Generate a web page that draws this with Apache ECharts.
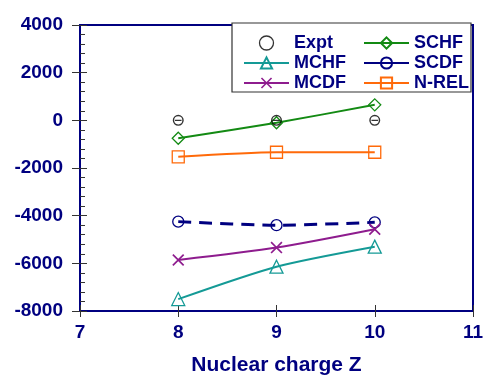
<!DOCTYPE html>
<html>
<head>
<meta charset="utf-8">
<script src="https://cdn.jsdelivr.net/npm/echarts@6/dist/echarts.min.js"></script>
<style>
  html, body { margin: 0; padding: 0; background: #fff; }
  #chart { width: 483px; height: 376px; }
</style>
</head>
<body>
<div id="chart"></div>
<script>
  const zValues = [8, 9, 10];
  const expt = [0, 0, 0];
  const schf = [-750, -100, 650];
  const mchf = [-7500, -6140, -5300];
  const scdf = [-4250, -4400, -4280];
  const mcdf = [-5860, -5340, -4570];
  const nrel = [-1530, -1340, -1340];
  const yTicks = [-8000, -6000, -4000, -2000, 0, 2000, 4000];
  const xTicks = [7, 8, 9, 10, 11];

  const navy = '#000080';
  const font = 'Liberation Sans, Arial, sans-serif';
  const crossPath = 'path://M0,1L1,0L5,4L9,0L10,1L6,5L10,9L9,10L5,6L1,10L0,9L4,5Z';
  // circle with a short bar through it, as drawn for the measured points
  const exptPath = 'path://M5,0A5,5 0 1,1 5,10A5,5 0 1,1 5,0Z' +
    'M5,1.3A3.7,3.7 0 1,0 5,8.7A3.7,3.7 0 1,0 5,1.3Z' +
    'M2,4.4L8,4.4L8,5.6L2,5.6Z';

  function pairs(vals) {
    return zValues.map((z, i) => [z, vals[i]]);
  }

  function lineSeries(name, vals, color, symbol, size, extra) {
    let s = {
      name: name,
      type: 'line',
      data: pairs(vals),
      smooth: 0.25,
      symbol: symbol,
      symbolSize: size,
      color: color,
      lineStyle: { color: color, width: 2 },
      itemStyle: { color: 'rgba(255,255,255,0)', borderColor: color, borderWidth: 1.3 }
    };
    return Object.assign(s, extra || {});
  }

  let chart = echarts.init(document.getElementById('chart'));

  let legendText = { color: navy, fontWeight: 'bold', fontSize: 18, fontFamily: font };

  let option = {
    animation: false,
    grid: {
      show: true,
      left: 80, right: 10, top: 25, bottom: 65,
      outerBoundsMode: 'none',
      containLabel: false,
      borderColor: navy, borderWidth: 2,
      backgroundColor: '#fff'
    },
    graphic: [{
      type: 'rect',
      z: 5,
      shape: { x: 232, y: 23, width: 239, height: 69 },
      style: { fill: '#fff', stroke: '#333', lineWidth: 1.2 }
    }],
    legend: [{
      z: 10,
      orient: 'vertical',
      left: 238, top: 29,
      itemWidth: 45, itemHeight: 14, itemGap: 2,
      textStyle: legendText,
      data: [{
        name: 'Expt', icon: 'circle',
        itemStyle: { color: 'rgba(255,255,255,0)', borderColor: '#000', borderWidth: 1.3 }
      }, 'MCHF', 'MCDF']
    }, {
      z: 10,
      orient: 'vertical',
      left: 358, top: 29,
      itemWidth: 45, itemHeight: 14, itemGap: 2,
      textStyle: legendText,
      data: ['SCHF', { name: 'SCDF', lineStyle: { type: 'solid', width: 2 } }, 'N-REL']
    }],
    xAxis: [{
      type: 'value',
      min: xTicks[0], max: xTicks[xTicks.length - 1], interval: 1,
      name: 'Nuclear charge Z',
      nameLocation: 'middle',
      nameGap: 44,
      nameTextStyle: { color: navy, fontWeight: 'bold', fontSize: 21, fontFamily: font },
      axisLine: { show: true, onZero: false, lineStyle: { color: navy, width: 2 } },
      axisTick: { show: true, inside: false, length: 6, lineStyle: { color: '#333' } },
      axisLabel: { color: navy, fontWeight: 'bold', fontSize: 19, fontFamily: font, margin: 12 },
      splitLine: { show: false }
    }, {
      type: 'value', position: 'bottom',
      min: xTicks[0], max: xTicks[xTicks.length - 1], interval: 1,
      axisLine: { show: false, onZero: false },
      axisTick: { show: true, inside: true, length: 6, lineStyle: { color: '#333' } },
      axisLabel: { show: false },
      splitLine: { show: false }
    }],
    yAxis: [{
      type: 'value',
      min: yTicks[0], max: yTicks[yTicks.length - 1], interval: 2000,
      axisLine: { show: true, onZero: false, lineStyle: { color: navy, width: 2 } },
      axisTick: { show: true, inside: false, length: 8, lineStyle: { color: '#333' } },
      axisLabel: {
        color: navy, fontWeight: 'bold', fontSize: 19, fontFamily: font, margin: 17,
        formatter: v => String(v)
      },
      splitLine: { show: false }
    }, {
      type: 'value', position: 'left',
      min: yTicks[0], max: yTicks[yTicks.length - 1], interval: 2000,
      axisLine: { show: false, onZero: false },
      axisTick: { show: true, inside: true, length: 7, lineStyle: { color: '#333' } },
      minorTick: { show: true, splitNumber: 5, length: 5, lineStyle: { color: '#333' } },
      axisLabel: { show: false },
      splitLine: { show: false }
    }],
    series: [
      {
        name: 'Expt',
        type: 'scatter',
        data: pairs(expt),
        symbol: exptPath,
        symbolSize: 11,
        color: '#000',
        itemStyle: { color: '#000' },
        z: 4
      },
      lineSeries('SCHF', schf, '#138a13', 'diamond', 12),
      lineSeries('MCHF', mchf, '#149a96', 'triangle', 13),
      lineSeries('SCDF', scdf, '#000080', 'circle', 11, {
        lineStyle: { color: '#000080', width: 3, type: [13, 8] }
      }),
      lineSeries('MCDF', mcdf, '#8e1c8e', crossPath, 12, {
        itemStyle: { color: '#8e1c8e' }
      }),
      lineSeries('N-REL', nrel, '#ff6a0a', 'rect', 12)
    ]
  };

  chart.setOption(option);
</script>
</body>
</html>
